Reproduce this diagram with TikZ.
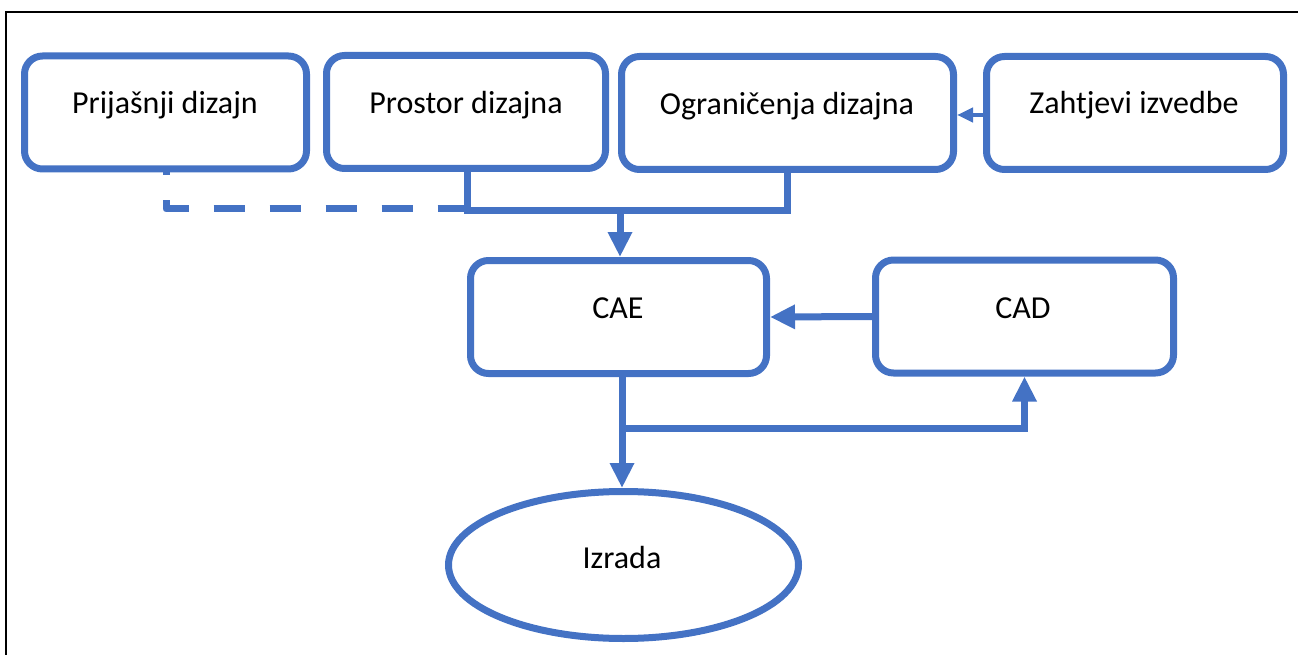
\documentclass[tikz,border=0pt]{standalone}
\usepackage{fontspec}
\setmainfont{Carlito}
\usetikzlibrary{arrows.meta,shapes.geometric}
\definecolor{obl}{HTML}{4472C4}
\begin{document}
\begin{tikzpicture}[x=1pt,y=-1pt,
  box/.style={draw=obl, line width=7pt, rounded corners=18pt, fill=white,
    inner sep=0pt, minimum height=113pt},
  oval/.style={ellipse, draw=obl, line width=7pt, fill=white, inner sep=0pt},
  lbl/.style={anchor=base, inner sep=0pt, font=\fontsize{32}{38}\selectfont},
  conn/.style={draw=obl, line width=7pt, line cap=butt, line join=miter},
  thinconn/.style={draw=obl, line width=4pt},
  bigtip/.style={-{Triangle[length=25pt,width=23pt]}},
  smalltip/.style={-{Triangle[length=16pt,width=14pt]}},
  frame/.style={draw=black, line width=1.5pt}
]
\useasboundingbox (0,0) rectangle (1298,655);
\coordinate (fa) at (6,655);
\coordinate (fb) at (6,12);
\coordinate (fc) at (1298,12);
\draw[frame] (fa) -- (fb) -- (fc);

% boxes
\node[box, minimum width=282pt] (pd) at (165.5,112.5) {};
\node[box, minimum width=279pt] (pr) at (466,112) {};
\node[box, minimum width=332pt] (og) at (787.5,113) {};
\node[box, minimum width=297pt] (zi) at (1135,113) {};
\node[box, minimum width=296pt] (cae) at (618.5,317) {};
\node[box, minimum width=298pt] (cad) at (1024.5,316.5) {};
\node[oval, minimum width=350pt, minimum height=147pt] (iz) at (623.5,565) {};

% labels
\node[lbl] (tpd) at (165,114) {Prijašnji dizajn};
\node[lbl] (tpr) at (466,114) {Prostor dizajna};
\node[lbl] (tog) at (787,115) {Ograničenja dizajna};
\node[lbl] (tzi) at (1134,114) {Zahtjevi izvedbe};
\node[lbl] (tcae) at (618,318) {CAE};
\node[lbl] (tcad) at (1023,318) {CAD};
\node[lbl] (tiz) at (622,568) {Izrada};

% junction coordinates
\coordinate (jd) at (166,209);
\coordinate (jd2) at (467,209);
\coordinate (jL) at (467,211);
\coordinate (jR) at (787,211);
\coordinate (jM) at (620,211);
\coordinate (br) at (622,428);

% connectors
\draw[conn, dash pattern=on 31pt off 25pt, dash phase=28pt, line join=round]
  (pd.south -| jd) -- (jd) -- (jd2);
\draw[conn] (pr.south -| jL) -- (jL) -- (jR) -- (og.south -| jR);
\draw[conn, bigtip] (jM) -- (jM |- cae.north);
\draw[thinconn, smalltip] ([yshift=-2pt]zi.west) -- ([yshift=-2pt]og.east);
\draw[conn, bigtip] (cad.west) -- (cae.east);
\draw[conn, bigtip] (br |- cae.south) -- (br |- iz.north);
\draw[conn, bigtip] (br) -| (cad.south);
\end{tikzpicture}
\end{document}
